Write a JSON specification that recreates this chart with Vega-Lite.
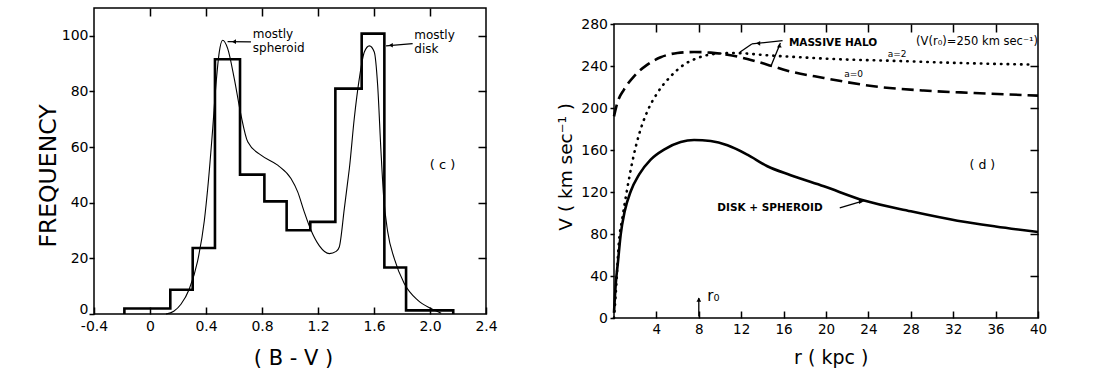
{
  "$schema": "https://vega.github.io/schema/vega-lite/v6.json",
  "background": "white",
  "padding": {"left": 35, "top": 6, "right": 5, "bottom": 0},
  "spacing": 57,
  "config": {
    "view": {"stroke": "black", "strokeWidth": 1.5},
    "font": "DejaVu Sans",
    "axis": {"grid": false, "domain": false, "labelColor": "black", "tickColor": "black", "titleColor": "black", "titleFontWeight": "normal", "labelFlush": false, "labelOverlap": false, "tickWidth": 1.5, "labelFont": "DejaVu Sans", "titleFont": "DejaVu Sans"},
    "text": {"color": "black", "font": "DejaVu Sans"}
  },
  "datasets": {
    "hist": [
      {"i": 0, "bv": -0.183, "freq": 0},
      {"i": 1, "bv": -0.183, "freq": 2},
      {"i": 2, "bv": 0.145, "freq": 8.7},
      {"i": 3, "bv": 0.305, "freq": 23.7},
      {"i": 4, "bv": 0.464, "freq": 91.6},
      {"i": 5, "bv": 0.643, "freq": 50.1},
      {"i": 6, "bv": 0.817, "freq": 40.5},
      {"i": 7, "bv": 0.976, "freq": 30.1},
      {"i": 8, "bv": 1.145, "freq": 33.1},
      {"i": 9, "bv": 1.324, "freq": 81},
      {"i": 10, "bv": 1.512, "freq": 100.8},
      {"i": 11, "bv": 1.674, "freq": 16.7},
      {"i": 12, "bv": 1.829, "freq": 1.3},
      {"i": 13, "bv": 2.0, "freq": 1.3},
      {"i": 14, "bv": 2.166, "freq": 0}
    ],
    "curve": [
      {"bv": 0.114, "freq": 0}, {"bv": 0.17, "freq": 1}, {"bv": 0.221, "freq": 3.5}, {"bv": 0.28, "freq": 8.9},
      {"bv": 0.34, "freq": 19}, {"bv": 0.388, "freq": 33.5}, {"bv": 0.412, "freq": 45}, {"bv": 0.448, "freq": 66.7},
      {"bv": 0.471, "freq": 82.3}, {"bv": 0.495, "freq": 94.2}, {"bv": 0.519, "freq": 98.4}, {"bv": 0.555, "freq": 95.4},
      {"bv": 0.602, "freq": 84.6}, {"bv": 0.65, "freq": 71.5}, {"bv": 0.698, "freq": 61.9}, {"bv": 0.793, "freq": 57.1},
      {"bv": 0.912, "freq": 53.5}, {"bv": 1.007, "freq": 48.7}, {"bv": 1.055, "freq": 43.9}, {"bv": 1.1, "freq": 37},
      {"bv": 1.15, "freq": 30.1}, {"bv": 1.21, "freq": 24.5}, {"bv": 1.281, "freq": 21.7}, {"bv": 1.33, "freq": 22.5},
      {"bv": 1.352, "freq": 24.1}, {"bv": 1.388, "freq": 37.9}, {"bv": 1.412, "freq": 47.5}, {"bv": 1.424, "freq": 52.3},
      {"bv": 1.459, "freq": 70.3}, {"bv": 1.495, "freq": 84.6}, {"bv": 1.531, "freq": 94.2}, {"bv": 1.567, "freq": 96.4},
      {"bv": 1.602, "freq": 94.2}, {"bv": 1.626, "freq": 82.3}, {"bv": 1.65, "freq": 58.3}, {"bv": 1.669, "freq": 42},
      {"bv": 1.698, "freq": 29.5}, {"bv": 1.745, "freq": 19.9}, {"bv": 1.816, "freq": 11}, {"bv": 1.912, "freq": 5},
      {"bv": 2.007, "freq": 2}, {"bv": 2.08, "freq": 0.3}
    ],
    "leftNotes": [
      {"bv": 0.734, "freq": 99.1, "label": "mostly\nspheroid"},
      {"bv": 1.888, "freq": 98.7, "label": "mostly\ndisk"}
    ],
    "leftTag": [{"bv": 2.09, "freq": 53.5, "label": "( c )"}],
    "leftArrows": [
      {"bv": 0.721, "freq": 97.8, "bv2": 0.554, "freq2": 97.9},
      {"bv": 1.876, "freq": 97.2, "bv2": 1.686, "freq2": 96.4}
    ],
    "leftHeads": [
      {"bv": 0.6, "freq": 97.9, "dir": "left"},
      {"bv": 1.72, "freq": 96.6, "dir": "left"}
    ],
    "rot": [
      {"curve": "disk", "r": 0, "v": 5}, {"curve": "disk", "r": 0.16, "v": 31.8}, {"curve": "disk", "r": 0.38, "v": 54},
      {"curve": "disk", "r": 0.63, "v": 79.4}, {"curve": "disk", "r": 1.01, "v": 101.6}, {"curve": "disk", "r": 1.58, "v": 120.7},
      {"curve": "disk", "r": 2.36, "v": 136.6}, {"curve": "disk", "r": 3.46, "v": 150.9}, {"curve": "disk", "r": 4.72, "v": 160.4},
      {"curve": "disk", "r": 6.29, "v": 167.6}, {"curve": "disk", "r": 7.55, "v": 169.5}, {"curve": "disk", "r": 9.12, "v": 168.5},
      {"curve": "disk", "r": 10.7, "v": 164.5}, {"curve": "disk", "r": 12.58, "v": 155.6}, {"curve": "disk", "r": 14.47, "v": 144.5},
      {"curve": "disk", "r": 16.67, "v": 136}, {"curve": "disk", "r": 19.8, "v": 125.4}, {"curve": "disk", "r": 23.6, "v": 111.8},
      {"curve": "disk", "r": 28, "v": 101.6}, {"curve": "disk", "r": 32.4, "v": 92.7}, {"curve": "disk", "r": 36, "v": 87.2},
      {"curve": "disk", "r": 40, "v": 81.9},
      {"curve": "a0", "r": 0, "v": 192}, {"curve": "a0", "r": 0.31, "v": 204.8}, {"curve": "a0", "r": 0.94, "v": 217.5},
      {"curve": "a0", "r": 1.89, "v": 230.2}, {"curve": "a0", "r": 3.15, "v": 241.3}, {"curve": "a0", "r": 4.4, "v": 248.3},
      {"curve": "a0", "r": 5.98, "v": 252.4}, {"curve": "a0", "r": 7.55, "v": 253.3}, {"curve": "a0", "r": 9.12, "v": 252.7},
      {"curve": "a0", "r": 10.7, "v": 250.8}, {"curve": "a0", "r": 12.58, "v": 246.7}, {"curve": "a0", "r": 14.47, "v": 241.3},
      {"curve": "a0", "r": 16.36, "v": 235.5}, {"curve": "a0", "r": 19.8, "v": 228.6}, {"curve": "a0", "r": 24.5, "v": 220.7},
      {"curve": "a0", "r": 29.2, "v": 216.6}, {"curve": "a0", "r": 34, "v": 214.3}, {"curve": "a0", "r": 40, "v": 211.8},
      {"curve": "a2", "r": 0, "v": 0}, {"curve": "a2", "r": 0.16, "v": 22.3}, {"curve": "a2", "r": 0.47, "v": 73},
      {"curve": "a2", "r": 0.79, "v": 95.2}, {"curve": "a2", "r": 1.26, "v": 123.8}, {"curve": "a2", "r": 1.74, "v": 149.2},
      {"curve": "a2", "r": 2.36, "v": 174.7}, {"curve": "a2", "r": 3.15, "v": 196.9}, {"curve": "a2", "r": 4.09, "v": 214.3},
      {"curve": "a2", "r": 5.35, "v": 230.2}, {"curve": "a2", "r": 6.6, "v": 241.3}, {"curve": "a2", "r": 7.87, "v": 247.6},
      {"curve": "a2", "r": 9.43, "v": 251.4}, {"curve": "a2", "r": 11.3, "v": 252.4}, {"curve": "a2", "r": 14.47, "v": 250.2},
      {"curve": "a2", "r": 17.6, "v": 248.3}, {"curve": "a2", "r": 21, "v": 246.5}, {"curve": "a2", "r": 26.1, "v": 245},
      {"curve": "a2", "r": 32.4, "v": 242.9}, {"curve": "a2", "r": 39.6, "v": 241.3}
    ],
    "halo": [{"r": 16.5, "v": 262, "label": "MASSIVE HALO"}],
    "haloValue": [{"r": 28.5, "v": 262.5, "label": "(V(r₀)=250 km sec⁻¹)"}],
    "alphaTags": [
      {"r": 26.7, "v": 251, "label": "a=2"},
      {"r": 22.6, "v": 232.4, "label": "a=0"}
    ],
    "diskTag": [{"r": 9.75, "v": 104.8, "label": "DISK  +  SPHEROID"}],
    "dTag": [{"r": 34.75, "v": 146, "label": "( d )"}],
    "r0Tag": [{"r": 8.8, "v": 21, "label": "r₀"}],
    "rightArrows": [
      {"r": 15.9, "v": 264.2, "r2": 13.0, "v2": 261.0},
      {"r": 13.0, "v": 261.0, "r2": 11.9, "v2": 253.3},
      {"r": 15.7, "v": 262, "r2": 14.8, "v2": 239.7},
      {"r": 21.3, "v": 104.8, "r2": 23.6, "v2": 111.8},
      {"r": 8.0, "v": 1.5, "r2": 8.0, "v2": 19}
    ],
    "rightHeads": [
      {"r": 13.6, "v": 261.6, "dir": "left"},
      {"r": 15.6, "v": 259.5, "dir": "up"},
      {"r": 23.3, "v": 110.8, "dir": "right"},
      {"r": 8.0, "v": 17.5, "dir": "up"}
    ],
    "blank": [{"r": 0}]
  },
  "hconcat": [
    {
      "width": 392,
      "height": 306,
      "resolve": {"axis": {"x": "independent", "y": "independent"}},
      "layer": [
        {
          "data": {"name": "hist"},
          "mark": {"type": "line", "interpolate": "step-after", "color": "black", "strokeWidth": 2.6, "strokeJoin": "miter", "strokeCap": "butt"},
          "encoding": {
            "x": {"field": "bv", "type": "quantitative", "scale": {"domain": [-0.4, 2.4], "nice": false, "zero": false},
              "axis": {"orient": "bottom", "values": [-0.4, 0, 0.4, 0.8, 1.2, 1.6, 2.0, 2.4], "labelExpr": "datum.value == 0 ? '0' : replace(format(datum.value, '.1f'), '\u2212', '-')", "tickSize": -7, "labelPadding": 12, "labelFontSize": 14, "title": "( B - V )", "titleFontSize": 21, "titleX": 199, "titleY": 33, "titleBaseline": "top"}},
            "y": {"field": "freq", "type": "quantitative", "scale": {"domain": [0, 110], "nice": false, "zero": false},
              "axis": {"orient": "left", "values": [0, 20, 40, 60, 80, 100], "tickSize": 5, "labelPadding": 1, "labelFontSize": 14, "labelOffset": {"condition": {"test": "datum.value === 0", "value": -5}, "value": 0}, "title": "FREQUENCY", "titleFontSize": 23.5, "titleAngle": 270, "titleBaseline": "alphabetic", "titleX": -39, "titleY": 167.5}},
            "order": {"field": "i", "type": "quantitative"}
          }
        },
        {
          "data": {"name": "curve"},
          "mark": {"type": "line", "interpolate": "monotone", "color": "black", "strokeWidth": 1.1},
          "encoding": {
            "x": {"field": "bv", "type": "quantitative", "scale": {"domain": [-0.4, 2.4], "nice": false, "zero": false},
              "axis": {"orient": "top", "values": [0, 0.4, 0.8, 1.2, 1.6, 2.0], "labels": false, "tickSize": -8, "title": null, "minExtent": 0, "maxExtent": 0}},
            "y": {"field": "freq", "type": "quantitative", "scale": {"domain": [0, 110], "nice": false, "zero": false},
              "axis": {"orient": "right", "values": [20, 40, 60, 80, 100], "labels": false, "tickSize": -8, "title": null, "minExtent": 0, "maxExtent": 0}}
          }
        },
        {
          "data": {"name": "leftArrows"},
          "mark": {"type": "rule", "color": "black", "strokeWidth": 1.2},
          "encoding": {
            "x": {"field": "bv", "type": "quantitative", "scale": {"domain": [-0.4, 2.4], "nice": false, "zero": false}, "axis": null},
            "y": {"field": "freq", "type": "quantitative", "scale": {"domain": [0, 110], "nice": false, "zero": false}, "axis": null},
            "x2": {"field": "bv2"},
            "y2": {"field": "freq2"}
          }
        },
        {
          "data": {"name": "leftHeads"},
          "mark": {"type": "point", "filled": true, "color": "black", "size": 22, "opacity": 1},
          "encoding": {
            "x": {"field": "bv", "type": "quantitative", "scale": {"domain": [-0.4, 2.4], "nice": false, "zero": false}, "axis": null},
            "y": {"field": "freq", "type": "quantitative", "scale": {"domain": [0, 110], "nice": false, "zero": false}, "axis": null},
            "shape": {"field": "dir", "type": "nominal", "scale": {"domain": ["left", "right", "up", "down"], "range": ["triangle-left", "triangle-right", "triangle-up", "triangle-down"]}, "legend": null}
          }
        },
        {
          "data": {"name": "leftNotes"},
          "mark": {"type": "text", "align": "left", "baseline": "alphabetic", "fontSize": 12, "lineBreak": "\n", "lineHeight": 13.5},
          "encoding": {
            "x": {"field": "bv", "type": "quantitative", "scale": {"domain": [-0.4, 2.4], "nice": false, "zero": false}, "axis": null},
            "y": {"field": "freq", "type": "quantitative", "scale": {"domain": [0, 110], "nice": false, "zero": false}, "axis": null},
            "text": {"field": "label"}
          }
        },
        {
          "data": {"name": "leftTag"},
          "mark": {"type": "text", "align": "center", "baseline": "middle", "fontSize": 13},
          "encoding": {
            "x": {"field": "bv", "type": "quantitative", "scale": {"domain": [-0.4, 2.4], "nice": false, "zero": false}, "axis": null},
            "y": {"field": "freq", "type": "quantitative", "scale": {"domain": [0, 110], "nice": false, "zero": false}, "axis": null},
            "text": {"field": "label"}
          }
        }
      ]
    },
    {
      "spacing": 0,
      "vconcat": [
        {
          "width": 424,
          "height": 8,
          "view": {"stroke": null},
          "data": {"name": "blank"},
          "mark": {"type": "point", "opacity": 0},
          "encoding": {}
        },
        {
          "width": 424,
          "height": 294,
          "resolve": {"axis": {"x": "independent", "y": "independent"}},
          "layer": [
            {
              "data": {"name": "rot"},
              "transform": [{"filter": "datum.curve == 'disk'"}],
              "mark": {"type": "line", "interpolate": "monotone", "color": "black", "strokeWidth": 2.6},
              "encoding": {
                "x": {"field": "r", "type": "quantitative", "scale": {"domain": [0, 40], "nice": false, "zero": false},
                  "axis": {"orient": "bottom", "values": [4, 8, 12, 16, 20, 24, 28, 32, 36, 40], "tickSize": -7, "labelPadding": 11.5, "labelFontSize": 13.5, "title": "r ( kpc )", "titleFontSize": 19, "titleX": 216.7, "titleY": 30, "titleBaseline": "top"}},
                "y": {"field": "v", "type": "quantitative", "scale": {"domain": [0, 280], "nice": false, "zero": false},
                  "axis": {"orient": "left", "values": [0, 40, 80, 120, 160, 200, 240, 280], "tickSize": 4, "labelPadding": 2.5, "labelFontSize": 14, "title": "V ( km sec⁻¹ )", "titleFontSize": 18.5, "titleAngle": 270, "titleBaseline": "alphabetic", "titleX": -42.4, "titleY": 142.3}}
              }
            },
            {
              "data": {"name": "rot"},
              "transform": [{"filter": "datum.curve == 'a0'"}],
              "mark": {"type": "line", "interpolate": "monotone", "color": "black", "strokeWidth": 2.6, "strokeDash": [12, 6]},
              "encoding": {
                "x": {"field": "r", "type": "quantitative", "scale": {"domain": [0, 40], "nice": false, "zero": false},
                  "axis": {"orient": "top", "values": [4, 8, 12, 16, 20, 24, 28, 32, 36], "labels": false, "tickSize": -8, "title": null, "minExtent": 0, "maxExtent": 0}},
                "y": {"field": "v", "type": "quantitative", "scale": {"domain": [0, 280], "nice": false, "zero": false},
                  "axis": {"orient": "right", "values": [40, 80, 120, 160, 200, 240], "labels": false, "tickSize": -8, "title": null, "minExtent": 0, "maxExtent": 0}}
              }
            },
            {
              "data": {"name": "rot"},
              "transform": [{"filter": "datum.curve == 'a2'"}],
              "mark": {"type": "line", "interpolate": "monotone", "color": "black", "strokeWidth": 2.6, "strokeDash": [0.5, 6.2], "strokeCap": "round"},
              "encoding": {
                "x": {"field": "r", "type": "quantitative", "scale": {"domain": [0, 40], "nice": false, "zero": false}, "axis": null},
                "y": {"field": "v", "type": "quantitative", "scale": {"domain": [0, 280], "nice": false, "zero": false}, "axis": null}
              }
            },
            {
              "data": {"name": "rightArrows"},
              "mark": {"type": "rule", "color": "black", "strokeWidth": 1.3},
              "encoding": {
                "x": {"field": "r", "type": "quantitative", "scale": {"domain": [0, 40], "nice": false, "zero": false}, "axis": null},
                "y": {"field": "v", "type": "quantitative", "scale": {"domain": [0, 280], "nice": false, "zero": false}, "axis": null},
                "x2": {"field": "r2"},
                "y2": {"field": "v2"}
              }
            },
            {
              "data": {"name": "rightHeads"},
              "mark": {"type": "point", "filled": true, "color": "black", "size": 22, "opacity": 1},
              "encoding": {
                "x": {"field": "r", "type": "quantitative", "scale": {"domain": [0, 40], "nice": false, "zero": false}, "axis": null},
                "y": {"field": "v", "type": "quantitative", "scale": {"domain": [0, 280], "nice": false, "zero": false}, "axis": null},
                "shape": {"field": "dir", "type": "nominal", "scale": {"domain": ["left", "right", "up", "down"], "range": ["triangle-left", "triangle-right", "triangle-up", "triangle-down"]}, "legend": null}
              }
            },
            {
              "data": {"name": "halo"},
              "mark": {"type": "text", "align": "left", "baseline": "middle", "fontSize": 10.5, "fontWeight": "bold"},
              "encoding": {
                "x": {"field": "r", "type": "quantitative", "scale": {"domain": [0, 40], "nice": false, "zero": false}, "axis": null},
                "y": {"field": "v", "type": "quantitative", "scale": {"domain": [0, 280], "nice": false, "zero": false}, "axis": null},
                "text": {"field": "label"}
              }
            },
            {
              "data": {"name": "haloValue"},
              "mark": {"type": "text", "align": "left", "baseline": "middle", "fontSize": 11.5},
              "encoding": {
                "x": {"field": "r", "type": "quantitative", "scale": {"domain": [0, 40], "nice": false, "zero": false}, "axis": null},
                "y": {"field": "v", "type": "quantitative", "scale": {"domain": [0, 280], "nice": false, "zero": false}, "axis": null},
                "text": {"field": "label"}
              }
            },
            {
              "data": {"name": "alphaTags"},
              "mark": {"type": "text", "align": "center", "baseline": "middle", "fontSize": 9},
              "encoding": {
                "x": {"field": "r", "type": "quantitative", "scale": {"domain": [0, 40], "nice": false, "zero": false}, "axis": null},
                "y": {"field": "v", "type": "quantitative", "scale": {"domain": [0, 280], "nice": false, "zero": false}, "axis": null},
                "text": {"field": "label"}
              }
            },
            {
              "data": {"name": "diskTag"},
              "mark": {"type": "text", "align": "left", "baseline": "middle", "fontSize": 10.5, "fontWeight": "bold"},
              "encoding": {
                "x": {"field": "r", "type": "quantitative", "scale": {"domain": [0, 40], "nice": false, "zero": false}, "axis": null},
                "y": {"field": "v", "type": "quantitative", "scale": {"domain": [0, 280], "nice": false, "zero": false}, "axis": null},
                "text": {"field": "label"}
              }
            },
            {
              "data": {"name": "dTag"},
              "mark": {"type": "text", "align": "center", "baseline": "middle", "fontSize": 12.5},
              "encoding": {
                "x": {"field": "r", "type": "quantitative", "scale": {"domain": [0, 40], "nice": false, "zero": false}, "axis": null},
                "y": {"field": "v", "type": "quantitative", "scale": {"domain": [0, 280], "nice": false, "zero": false}, "axis": null},
                "text": {"field": "label"}
              }
            },
            {
              "data": {"name": "r0Tag"},
              "mark": {"type": "text", "align": "left", "baseline": "middle", "fontSize": 15},
              "encoding": {
                "x": {"field": "r", "type": "quantitative", "scale": {"domain": [0, 40], "nice": false, "zero": false}, "axis": null},
                "y": {"field": "v", "type": "quantitative", "scale": {"domain": [0, 280], "nice": false, "zero": false}, "axis": null},
                "text": {"field": "label"}
              }
            }
          ]
        }
      ]
    }
  ]
}
